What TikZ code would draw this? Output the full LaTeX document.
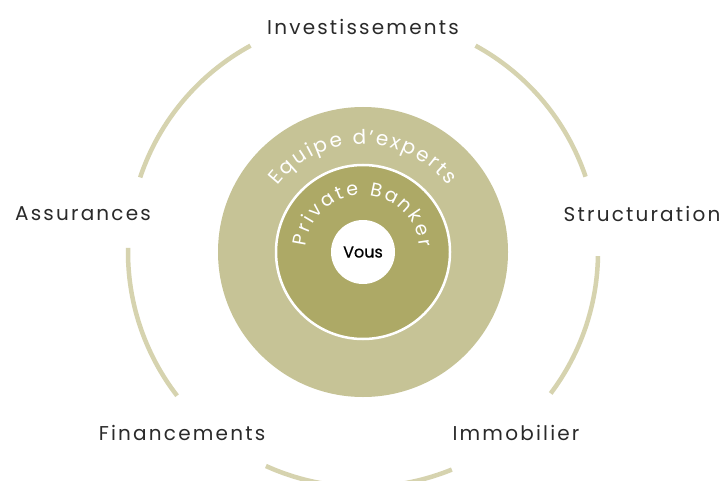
\documentclass[tikz,border=0pt]{standalone}
\usepackage{fontspec}
\setmainfont{Poppins}
\usetikzlibrary{decorations.text}
\definecolor{ringout}{HTML}{C6C396}
\definecolor{ringin}{HTML}{ADA966}
\definecolor{arcc}{HTML}{D6D3AF}
\definecolor{txt}{HTML}{2A2A2A}
\tikzset{
  arcline/.style={draw=arcc, line width=4.5pt, line cap=butt},
  lbl/.style={text=txt, inner sep=0pt, font=\fontsize{20}{20}\selectfont\addfontfeatures{LetterSpace=11}},
  curved/.style={decorate, font=\fontsize{#1}{#1}\selectfont},
}
\begin{document}
\begin{tikzpicture}[x=1pt,y=1pt]
\useasboundingbox (0,0) rectangle (727,480);
\fill[white] (0,0) rectangle (727,480);
\coordinate (c) at (363,228);
\fill[ringout] (c) circle[radius=145];
\filldraw[fill=ringin, draw=white, line width=2.5pt] (c) circle[radius=87];
\node[circle, fill=white, minimum size=64pt, inner sep=0pt, text=black,
  font=\fontsize{16}{16}\selectfont\addfontfeatures{FakeBold=0.6}] (vous) at (c) {Vous};
\foreach \a/\b in {18.7/61.4, 118.6/161.5, 179/217.7, 245.6/292.2, 323/359}
  \draw[arcline] ([shift={(\a:235)}]c) arc[start angle=\a, end angle=\b, radius=235];
\path[curved=20, decoration={text along path, text color=white,
  text={|\fontsize{20}{20}\selectfont|Equipe d’experts}, text align=fit to path}]
  ([shift={(142:108)}]c) arc[start angle=142, end angle=38, radius=108];
\path[curved=19, decoration={text along path, text color=white,
  text={|\fontsize{19}{19}\selectfont|Private Banker}, text align=fit to path}]
  ([shift={(175:57)}]c) arc[start angle=175, end angle=5, radius=57];
\node[lbl] (inv) at (363,453) {Investissements};
\node[lbl] (ass) at (83,266) {Assurances};
\node[lbl] (str) at (642,266) {Structuration};
\node[lbl] (fin) at (182,47) {Financements};
\node[lbl] (imm) at (516,47) {Immobilier};
\end{tikzpicture}
\end{document}
